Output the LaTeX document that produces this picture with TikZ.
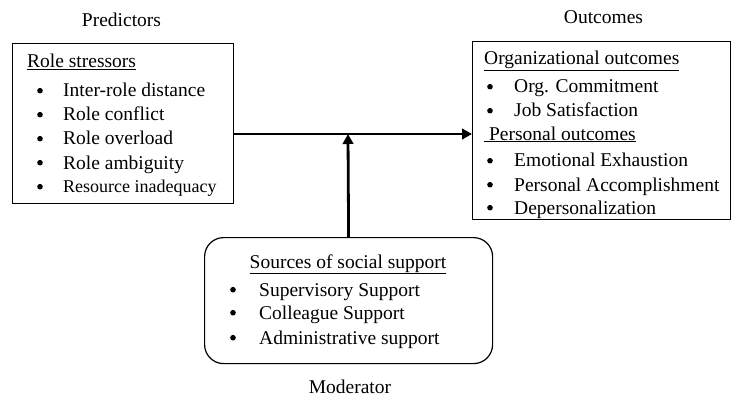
\documentclass[tikz,border=0pt]{standalone}
\usepackage{fontspec}
\setmainfont{Liberation Serif}
\usetikzlibrary{arrows.meta}
\begin{document}
\begin{tikzpicture}[x=1pt,y=-1pt,
  box/.style={draw,line width=1pt,inner sep=0pt,anchor=north west},
  txt/.style={anchor=base west,inner sep=0pt,font=\fontsize{19.5}{24}\selectfont},
  ctxt/.style={anchor=base,inner sep=0pt,font=\fontsize{19.5}{24}\selectfont},
  bul/.style={circle,fill,inner sep=0pt,minimum size=5.6pt,yshift=6.3pt},
  conn/.style={line width=2.8pt,-{Triangle[length=10pt,width=10.5pt]}}]
\useasboundingbox (0,0) rectangle (732,396);
% boxes
\node[box,minimum width=221pt,minimum height=160pt] (pred) at (12,43) {};
\node[box,minimum width=258pt,minimum height=178pt] (out) at (472,41) {};
\node[box,rounded corners=19pt,line width=1.2pt,minimum width=288pt,minimum height=126pt] (mod) at (204,237) {};
% titles
\node[ctxt] (tpred) at (121.5,27) {Predictors};
\node[ctxt] (tout) at (603.5,24) {Outcomes};
\node[ctxt] (tmod) at (350,393) {Moderator};
% predictors
\node[txt] (rs) at (27,68) {\underline{Role stressors}};
\foreach \i/\t/\y in {1/Inter-role distance/97,2/Role conflict/121,3/Role overload/145,4/Role ambiguity/169}{
  \node[bul] (pb\i) at (40,\y) {};
  \node[txt] (pt\i) at (63,\y) {\t};
}
\node[bul] (pb5) at (40,193) {};
\node[txt,font=\fontsize{18}{22}\selectfont] (pt5) at (63,193) {Resource inadequacy};
% outcomes
\node[txt] (oo) at (484,65) {\underline{Organizational outcomes}};
\foreach \i/\t/\y in {1/Org. Commitment/93,2/Job Satisfaction/117}{
  \node[bul] (ob\i) at (490,\y) {};
  \node[txt] (ot\i) at (514,\y) {\t};
}
\node[txt] (po) at (484,140) {\underline{\ Personal outcomes}};
\foreach \i/\t/\y in {3/Emotional Exhaustion/167,4/Personal Accomplishment/191,5/Depersonalization/214}{
  \node[bul] (ob\i) at (490,\y) {};
  \node[txt] (ot\i) at (514,\y) {\t};
}
% moderator
\node[ctxt] (ss) at (348,268) {\underline{Sources of social support}};
\foreach \i/\t/\y in {1/Supervisory Support/296,2/Colleague Support/319,3/Administrative support/344}{
  \node[bul] (mb\i) at (233,\y) {};
  \node[txt] (mt\i) at (259,\y) {\t};
}
% connectors
\coordinate (j) at (348,134);
\draw[conn] (pred.east |- j) -- (out.west |- j);
\draw[conn] (mod.north) -- (j);
\end{tikzpicture}
\end{document}
